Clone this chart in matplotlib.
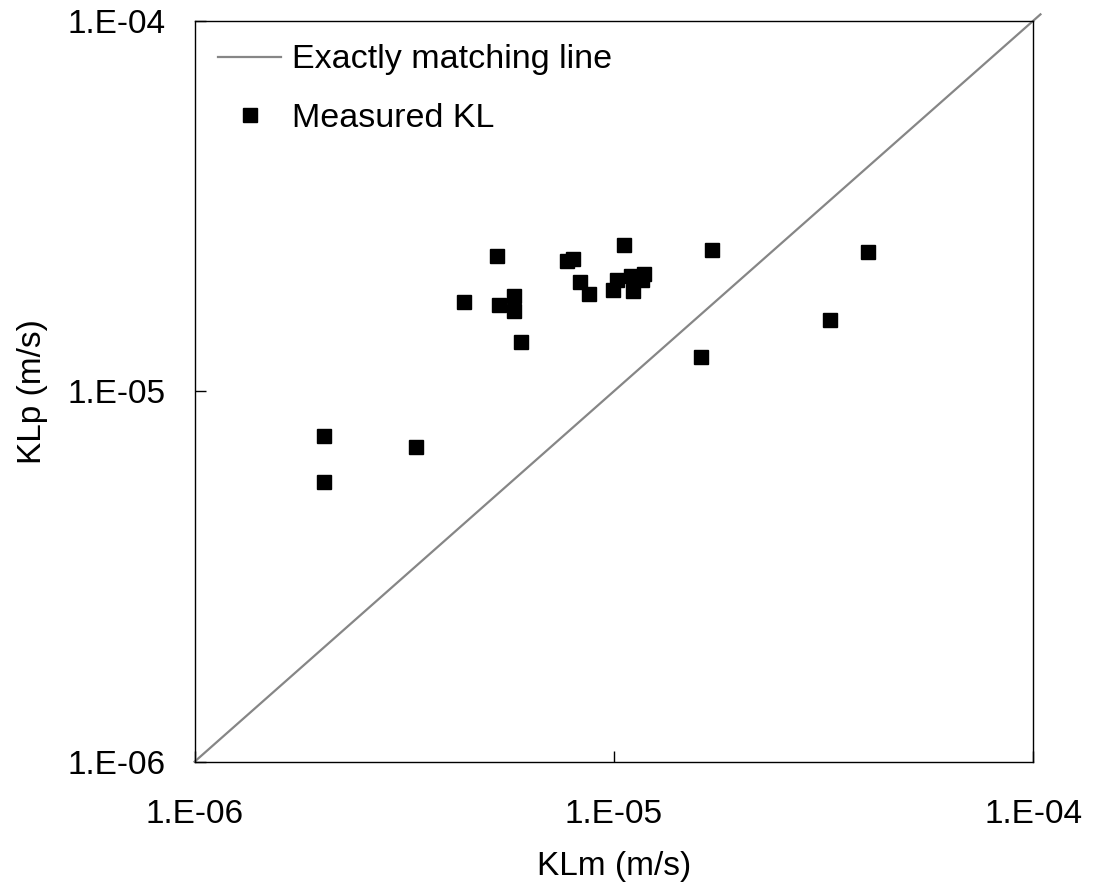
import numpy as np
import matplotlib
matplotlib.use('Agg')
import matplotlib.pyplot as plt

plt.rcParams['font.family'] = ['Liberation Sans', 'DejaVu Sans']

# measured vs predicted KL (m/s)
klm = [2.03e-6, 2.03e-6, 3.37e-6, 4.39e-6, 5.25e-6, 5.32e-6, 5.78e-6, 5.78e-6,
       5.99e-6, 7.71e-6, 8.0e-6, 8.30e-6, 8.70e-6, 1.055e-5, 9.93e-6, 1.018e-5,
       1.096e-5, 1.108e-5, 1.168e-5, 1.178e-5, 1.61e-5, 1.713e-5, 3.28e-5, 4.03e-5]
klp = [7.58e-6, 5.70e-6, 7.08e-6, 1.738e-5, 2.32e-5, 1.71e-5, 1.81e-5, 1.646e-5,
       1.36e-5, 2.25e-5, 2.27e-5, 1.97e-5, 1.83e-5, 2.48e-5, 1.88e-5, 2.00e-5,
       2.05e-5, 1.86e-5, 2.00e-5, 2.07e-5, 1.237e-5, 2.41e-5, 1.556e-5, 2.38e-5]

lims = [1e-6, 1e-4]
line_end = [1e-6, 1.04e-4]   # 1:1 line pokes a little past the corner
ticks = [1e-6, 1e-5, 1e-4]
tick_labels = ['1.E-06', '1.E-05', '1.E-04']

fig = plt.figure(figsize=(10.93, 8.91), dpi=100)
ax = fig.add_axes([0.178, 0.1451, 0.7674, 0.8317])

ax.plot(line_end, line_end, color='#868686', lw=1.6, label='Exactly matching line', clip_on=False)
ax.plot(klm, klp, 's', color='black', markersize=9.5, label='Measured KL')

ax.set_xscale('log')
ax.set_yscale('log')
ax.set_xlim(lims)
ax.set_ylim(lims)
ax.set_xticks(ticks)
ax.set_yticks(ticks)
ax.set_xticklabels(tick_labels)
ax.set_yticklabels(tick_labels)
ax.minorticks_off()
ax.tick_params(axis='x', direction='in', length=8, width=1, labelsize=24, pad=27)
ax.tick_params(axis='y', direction='in', length=8, width=1, labelsize=24, pad=21)

for s in ax.spines.values():
    s.set_linewidth(1)
    s.set_color('black')

ax.set_xlabel('KLm (m/s)', fontsize=24, labelpad=15)
ax.set_ylabel('KLp (m/s)', fontsize=24, labelpad=14)

ax.legend(loc='upper left', frameon=False, fontsize=24.5, handlelength=1.85,
          handletextpad=0.3, labelspacing=0.8, borderaxespad=0.3,
          bbox_to_anchor=(0.0, 1.0))

fig.savefig('out.png', dpi=100)
